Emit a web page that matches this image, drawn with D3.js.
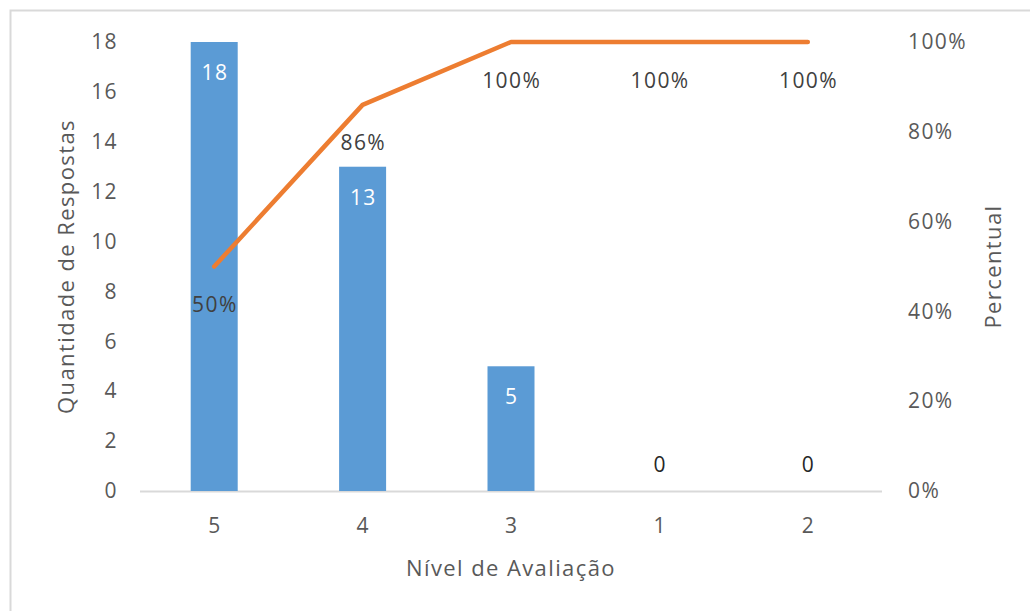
<!DOCTYPE html>
<html>
<head>
<meta charset="utf-8">
<script src="https://cdn.jsdelivr.net/npm/d3@7"></script>
<style>
  html, body { margin: 0; padding: 0; background: #fff; }
  svg { display: block; }
  text { font-family: "Open Sans", "Noto Sans", sans-serif; }
</style>
</head>
<body>
<svg id="chart" width="1030" height="611"></svg>
<script>
// Pareto data: responses per evaluation level and cumulative share
const categories = ["5", "4", "3", "1", "2"];
const counts = [18, 13, 5, 0, 0];
const cumulativePct = [50, 86, 100, 100, 100];
const leftTicks = [0, 2, 4, 6, 8, 10, 12, 14, 16, 18];
const rightTicks = [0, 20, 40, 60, 80, 100];

const svg = d3.select("#chart");
const W = 1030, H = 611;
const plot = { left: 140, right: 882, top: 42, bottom: 491 };
const fontSize = 21;
const spacing = "1.4px";
const textColor = "#595959";

function styleText(sel, size) {
  sel.attr("fill", textColor)
    .style("font-size", (size || fontSize) + "px")
    .style("letter-spacing", spacing)
    .style("font-family", '"Open Sans", sans-serif');
}

// frame
svg.append("path")
  .attr("d", `M10.5,${H} V10.5 H${W}`)
  .attr("fill", "none")
  .attr("stroke", "#d9d9d9")
  .attr("stroke-width", 2);

const x = d3.scaleBand().domain(categories).range([plot.left, plot.right]);
const yL = d3.scaleLinear().domain([0, 18]).range([plot.bottom, plot.top]);
const yR = d3.scaleLinear().domain([0, 100]).range([plot.bottom, plot.top]);
const cx = c => x(c) + x.bandwidth() / 2;
const barW = 47;

// x axis line
svg.append("line")
  .attr("x1", plot.left).attr("x2", plot.right)
  .attr("y1", plot.bottom + 0.5).attr("y2", plot.bottom + 0.5)
  .attr("stroke", "#d9d9d9").attr("stroke-width", 2);

// left axis
const leftAxis = svg.append("g").attr("transform", `translate(${plot.left - 22},0)`)
  .call(d3.axisLeft(yL).tickValues(leftTicks).tickSize(0).tickPadding(0));
leftAxis.select(".domain").remove();
leftAxis.selectAll("text").call(styleText);

// right axis
const rightAxis = svg.append("g").attr("transform", `translate(${plot.right + 26},0)`)
  .call(d3.axisRight(yR).tickValues(rightTicks).tickSize(0).tickPadding(0).tickFormat(d => d + "%"));
rightAxis.select(".domain").remove();
rightAxis.selectAll("text").call(styleText);

// bottom axis labels
const bottomAxis = svg.append("g").attr("transform", `translate(0,${plot.bottom})`)
  .call(d3.axisBottom(x).tickSize(0).tickPadding(0));
bottomAxis.select(".domain").remove();
bottomAxis.selectAll("text").call(styleText)
  .attr("dy", null).attr("y", 42).attr("dx", "0.7px");

// bars
svg.append("g").selectAll("rect").data(counts).join("rect")
  .attr("x", (d, i) => cx(categories[i]) - barW / 2)
  .attr("y", d => yL(d))
  .attr("width", barW)
  .attr("height", d => yL(0) - yL(d))
  .attr("fill", "#5b9bd5");

// bar value labels
svg.append("g").selectAll("text").data(counts).join("text")
  .attr("x", (d, i) => cx(categories[i]) + 0.7)
  .attr("y", d => d > 0 ? yL(d) + 38 : yL(d) - 19)
  .attr("text-anchor", "middle")
  .call(styleText)
  .attr("fill", d => d > 0 ? "#ffffff" : "#262626")
  .text(d => d);

// cumulative line
const line = d3.line()
  .x((d, i) => cx(categories[i]))
  .y(d => yR(d));
svg.append("path")
  .datum(cumulativePct)
  .attr("d", line)
  .attr("fill", "none")
  .attr("stroke", "#ed7d31")
  .attr("stroke-width", 4.5)
  .attr("stroke-linecap", "round")
  .attr("stroke-linejoin", "round");

// line value labels
svg.append("g").selectAll("text").data(cumulativePct).join("text")
  .attr("x", (d, i) => cx(categories[i]) + 0.7)
  .attr("y", d => yR(d) + 45.5)
  .attr("text-anchor", "middle")
  .call(styleText)
  .attr("fill", "#404040")
  .text(d => d + "%");

// axis titles
svg.append("text")
  .attr("transform", `translate(74,${(plot.top + plot.bottom) / 2}) rotate(-90)`)
  .attr("text-anchor", "middle")
  .call(styleText, 22)
  .text("Quantidade de Respostas");

svg.append("text")
  .attr("transform", `translate(1001,${(plot.top + plot.bottom) / 2}) rotate(-90)`)
  .attr("text-anchor", "middle")
  .call(styleText, 22)
  .text("Percentual");

svg.append("text")
  .attr("x", 511).attr("y", 576)
  .attr("text-anchor", "middle")
  .call(styleText, 22)
  .text("Nível de Avaliação");
</script>
</body>
</html>
